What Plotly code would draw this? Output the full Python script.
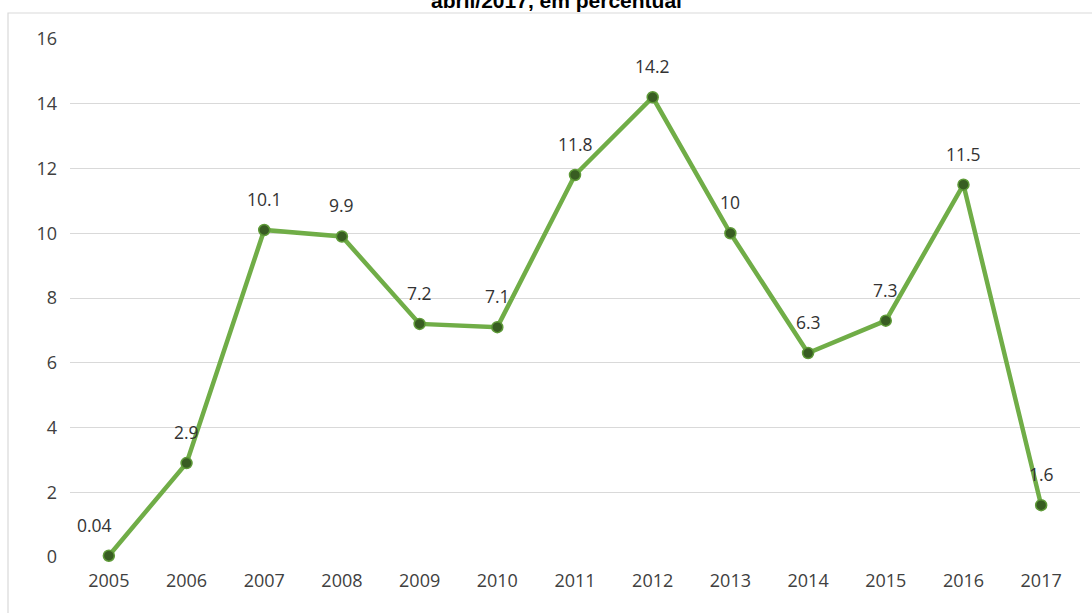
import plotly.graph_objects as go

# Annual series, percent
years = [2005, 2006, 2007, 2008, 2009, 2010, 2011, 2012, 2013, 2014, 2015, 2016, 2017]
values = [0.04, 2.9, 10.1, 9.9, 7.2, 7.1, 11.8, 14.2, 10, 6.3, 7.3, 11.5, 1.6]
value_labels = ["0.04", "2.9", "10.1", "9.9", "7.2", "7.1", "11.8", "14.2", "10", "6.3", "7.3", "11.5", "1.6"]
y_ticks = [0, 2, 4, 6, 8, 10, 12, 14, 16]
title_text = "abril/2017, em percentual"

W, H = 1092, 613
ML, MR, MT, MB = 70, 12, 39, 56
PW, PH = W - ML - MR, H - MT - MB


def px_x(p):
    return (p - ML) / PW


def px_y(p):
    return (H - MB - p) / PH


fig = go.Figure()
fig.add_trace(go.Scatter(
    x=years, y=values, mode="lines+markers", cliponaxis=False,
    line=dict(color="#70AD47", width=4.5),
    marker=dict(size=11, color="#385D22", line=dict(color="#5E9A38", width=1.5)),
    hoverinfo="skip", showlegend=False,
))

# value labels above each point
for i, (yr, v, t) in enumerate(zip(years, values, value_labels)):
    fig.add_annotation(
        x=yr, y=v, text=t, showarrow=False, xref="x", yref="y",
        yshift=31, xshift=-14 if i == 0 else 0,
        font=dict(family="Open Sans", size=17.5, color="#333333"),
    )

# chart frame (partially visible)
fig.add_shape(type="rect", xref="paper", yref="paper",
              x0=px_x(8), x1=px_x(1100), y0=px_y(625), y1=px_y(13),
              line=dict(color="#D9D9D9", width=1.2), fillcolor="rgba(0,0,0,0)", layer="below")

# title (runs off the page top)
fig.add_annotation(
    x=px_x(556), y=px_y(0), xref="paper", yref="paper", showarrow=False,
    text=f"<b>{title_text}</b>", yanchor="middle", xanchor="center",
    font=dict(family="Liberation Sans", size=21, color="#000000"),
)

fig.update_xaxes(
    range=[2004.5, 2017.5], tickvals=years, ticktext=[str(y) for y in years],
    showgrid=False, zeroline=False, showline=False, ticks="",
    tickfont=dict(family="Open Sans", size=18, color="#404040"),
    ticklabelstandoff=11,
)
fig.update_yaxes(
    range=[0, 16], tickvals=y_ticks, showgrid=True, gridcolor="#D9D9D9", gridwidth=1.2,
    zeroline=False, showline=False, ticks="",
    tickfont=dict(family="Open Sans", size=18, color="#404040"),
    ticklabelstandoff=12,
)
fig.update_layout(
    width=W, height=H, margin=dict(l=ML, r=MR, t=MT, b=MB),
    paper_bgcolor="white", plot_bgcolor="white",
)
fig.write_html("out.html")
